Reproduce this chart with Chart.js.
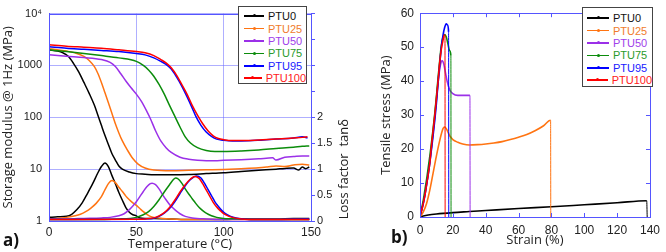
<!DOCTYPE html>
<html>
<head>
<meta charset="utf-8">
<script src="https://cdn.jsdelivr.net/npm/chart.js@4.4.1/dist/chart.umd.min.js"></script>
<style>
  body { margin: 0; background: #fff; }
  #wrap { position: relative; width: 666px; height: 252px; overflow: hidden; font-family: "Liberation Sans", Arial, sans-serif; }
  canvas { position: absolute; top: 0; }
  #chartA { left: 0; }
  #chartB { left: 352px; }
  .legend { position: absolute; box-sizing: border-box; background: #fff; border: 1px solid #444; font-size: 11px; }
  .legend .row { display: flex; align-items: center; height: 12.4px; }
  .legend .swatch { position: relative; height: 1.5px; margin-right: 4px; }
  .legend .swatch i { position: absolute; left: 50%; top: -1px; width: 3px; height: 3px; margin-left: -1.5px; border-radius: 50%; }
  .panel { position: absolute; font: bold 17px "Open Sans", sans-serif; color: #111; }
</style>
</head>
<body>
<div id="wrap">
  <canvas id="chartA" width="352" height="252"></canvas>
  <canvas id="chartB" width="314" height="252"></canvas>
  <div id="legendA" class="legend" style="left:238px;top:6px;width:69px;height:78px;padding:3px 0 0 5px;"></div>
  <div id="legendB" class="legend" style="left:582px;top:7px;width:71px;height:80px;padding:4px 0 0 4px;"></div>
  <div class="panel" style="left:3px;top:228px;">a)</div>
  <div class="panel" style="left:391px;top:225px;">b)</div>
</div>
<script>
// series
const seriesNames = ['PTU0', 'PTU25', 'PTU50', 'PTU75', 'PTU95', 'PTU100'];
const seriesColors = ['#000000', '#ff7412', '#9b30e8', '#0b8c0b', '#0000ff', '#ff0000'];
const legendTextColors = ['#111111', '#f07c2c', '#a040ea', '#2a9a2a', '#2020ff', '#ff2020'];

// a) storage modulus (MPa) vs temperature (°C)
const modT0 = [0,5,8,11,14,17,20,23,26,28,30,32,34,36,38,40,42,46,50,55,60,70,80,90,100,110,120,130,135,140,143,145,147,149];
const mod0 = [2000,1900,1750,1500,1100,750,470,290,170,110,70,45,30,20,15,11.5,10,8.8,8.2,8,7.8,7.8,7.9,8.2,8.5,9,9.5,10,10.3,10.5,9.6,11,10.2,11];
const modT25 = [0,5,10,15,20,23,26,28,30,32,34,36,38,40,42,45,48,51,55,60,70,80,90,100,110,120,125,130,135,140,145,149];
const mod25 = [2100,2000,1900,1750,1500,1250,950,700,470,300,190,120,75,50,35,23,16,12.5,10.5,9.6,9.3,9.5,9.7,9.9,10.2,10.6,11,11.5,11.2,12,12.5,12];
const modT50 = [0,10,20,30,35,38,41,44,47,50,53,56,58,61,64,67,70,75,80,85,90,95,100,110,120,128,130,135,140,145,149];
const mod50 = [1600,1500,1420,1300,1150,950,700,500,370,280,200,130,95,55,35,26,21,17,15.5,14.8,14.5,14.5,14.8,15.2,15.8,16.5,15,17,17.5,18,18];
const modT75 = [0,10,20,30,40,50,54,57,60,63,66,69,72,75,78,81,85,90,95,100,110,120,130,140,145,149];
const mod75 = [2000,1850,1700,1550,1400,1200,1000,820,620,430,280,170,105,65,42,32,26,23,22,22,22.5,23.5,25,26.5,27.5,28];
const modT95 = [0,10,20,30,40,50,55,60,64,67,70,73,76,79,82,84,87,90,93,96,100,105,110,120,130,140,145,148];
const mod95 = [2300,2150,2050,1950,1850,1700,1600,1400,1200,1050,850,600,400,250,150,105,70,52,43,38,36,35,35,36,38,40,42,40];
const modT100 = [0,10,20,30,40,50,55,60,64,67,70,73,76,79,82,85,88,91,94,97,100,105,110,120,130,140,145,148];
const mod100 = [2500,2350,2250,2150,2000,1850,1750,1550,1300,1120,900,650,430,280,170,110,75,55,44,39,37,35.5,35.5,36.5,38,40,41,42];

// a) loss factor tan delta vs temperature
const tanT0 = [0,5,10,13,16,19,22,25,28,30,32,34,36,38,40,42,44,46,48,50,52,55,60,70,80,90,100,110,120,130,140,149];
const tan0 = [0.07,0.08,0.09,0.13,0.22,0.35,0.53,0.72,0.93,1.05,1.12,1.05,0.88,0.72,0.55,0.4,0.26,0.17,0.12,0.1,0.06,0.05,0.05,0.04,0.03,0.03,0.03,0.04,0.04,0.04,0.05,0.05];
const tanT25 = [0,5,10,15,18,21,24,27,30,32,34,36,38,40,42,44,46,48,50,52,54,56,58,60,65,70,80,100,120,149];
const tan25 = [0.04,0.05,0.07,0.1,0.13,0.18,0.25,0.34,0.47,0.6,0.72,0.78,0.74,0.65,0.57,0.48,0.41,0.35,0.3,0.24,0.18,0.13,0.09,0.07,0.05,0.04,0.03,0.03,0.03,0.03];
const tanT50 = [0,10,20,30,35,40,43,46,48,50,52,54,56,58,59,61,63,65,67,69,71,73,75,78,82,90,100,120,149];
const tan50 = [0.04,0.04,0.05,0.06,0.07,0.1,0.14,0.22,0.29,0.37,0.47,0.57,0.66,0.72,0.73,0.7,0.62,0.51,0.41,0.32,0.25,0.19,0.14,0.09,0.06,0.04,0.03,0.03,0.03];
const tanT75 = [0,20,40,50,54,57,60,63,66,69,71,72.5,74,76,78,80,82,84,86,88,90,93,96,100,110,120,149];
const tan75 = [0.03,0.03,0.04,0.07,0.12,0.18,0.28,0.41,0.56,0.7,0.79,0.83,0.81,0.73,0.62,0.52,0.43,0.34,0.26,0.2,0.15,0.1,0.07,0.05,0.04,0.03,0.03];
const tanT95 = [0,50,55,60,63,66,69,72,75,78,81,84.5,87,89,91,93,95,97,99,101,104,107,111,120,149];
const tan95 = [0.03,0.035,0.04,0.055,0.09,0.15,0.24,0.37,0.53,0.68,0.8,0.87,0.83,0.73,0.61,0.49,0.37,0.28,0.2,0.14,0.09,0.06,0.04,0.03,0.04];
const tanT100 = [0,50,55,60,63,66,69,72,75,78,81,83.5,86,88,90,92,94,96,98,100,103,106,110,120,149];
const tan100 = [0.03,0.035,0.04,0.06,0.1,0.16,0.26,0.4,0.56,0.7,0.81,0.86,0.82,0.72,0.6,0.48,0.36,0.27,0.2,0.14,0.09,0.06,0.04,0.03,0.03];

// b) tensile stress (MPa) vs strain (%)
const strain0 = [0,2,5,10,20,30,40,60,80,100,120,138,138.3];
const stress0 = [0,0.3,0.6,0.9,1.3,1.6,1.9,2.5,3.0,3.6,4.2,4.8,0];
const strain25 = [0,2,4,6,8,10,12,14,15,16,18,20,23,26,30,35,40,45,50,55,60,65,70,75,79.5,79.6];
const stress25 = [0,1.5,4,8,13,18,22.5,26,26.5,26,24,22.8,22,21.5,21.2,21.3,21.5,21.8,22.2,22.8,23.5,24.3,25.4,26.8,28.5,0];
const strain50 = [0,1,2,3,4,5,6,7,8,9,10,11,12,13,13.6,14.5,15.5,16.5,18,20,23,26,30.4,30.5];
const stress50 = [0.5,2,4,6.5,9.5,13,16.5,20.5,25,29.5,34.5,39.5,43.5,45.8,46,45,42.5,40,37.5,36.3,35.8,35.8,35.8,0];
const strain75 = [0,1,2,3,4,5,6,7,8,9,10,11,12,13,14,15,16,17,18,18.8,18.9];
const stress75 = [0.5,2.5,5,8,11,14.5,18,22,26,30.5,35.5,41,46,50.5,53,53.7,53,51,49,47.5,0];
const strain95 = [0,1,2,3,4,5,6,7,8,9,10,11,12,13,14,15,16,16.8,17.4,17.5];
const stress95 = [0.5,2,4,6.5,9.5,12.5,16,20,24,28.5,33.5,39.5,45,50,53.5,55.8,56.9,56.5,54.5,0];
const strain100 = [0,1,2,3,4,5,6,7,8,9,10,11,12,13,14,14.8,15.2,15.3];
const stress100 = [0.5,2,4,6.5,9.5,12.5,16,21,25.5,30,35,40,45.5,49.5,52,53.6,53.5,0];

// axis ticks
const modTicks = [1, 10, 100, 1000, 10000];
const tanLabelMax = 2;

const modX = [modT0, modT25, modT50, modT75, modT95, modT100];
const modY = [mod0, mod25, mod50, mod75, mod95, mod100];
const tanX = [tanT0, tanT25, tanT50, tanT75, tanT95, tanT100];
const tanY = [tan0, tan25, tan50, tan75, tan95, tan100];
const strainX = [strain0, strain25, strain50, strain75, strain95, strain100];
const stressY = [stress0, stress25, stress50, stress75, stress95, stress100];

const GRID_BLUE = 'rgba(110,110,255,0.55)';
const AXIS_BLUE = '#5555ff';
const TICK_FONT = { family: '"Liberation Sans", Arial, sans-serif', size: 12 };
const TICK_FONT_SMALL = { family: '"Liberation Sans", Arial, sans-serif', size: 11 };
const TITLE_FONT = { family: '"Open Sans", sans-serif', size: 13 };
const TEXT_COLOR = '#222';

const pts = (xs, ys) => xs.map((x, i) => ({ x: x, y: ys[i] }));

// legends (html)
function buildLegend(id, swatchWidth) {
    const box = document.getElementById(id);
    seriesNames.forEach((name, i) => {
        const row = document.createElement('div');
        row.className = 'row';
        row.innerHTML = `<span class="swatch" style="width:${swatchWidth}px;background:${seriesColors[i]}"><i style="background:${seriesColors[i]}"></i></span>` +
            `<span style="color:${legendTextColors[i]}">${name}</span>`;
        box.appendChild(row);
    });
}
buildLegend('legendA', 20);
buildLegend('legendB', 22);

// frame around the plot area
const frame = {
    id: 'frame',
    afterDatasetsDraw(chart) {
        const a = chart.chartArea, ctx = chart.ctx;
        ctx.save();
        ctx.strokeStyle = AXIS_BLUE;
        ctx.lineWidth = 1;
        ctx.strokeRect(Math.round(a.left) + 0.5, Math.round(a.top) + 0.5, Math.round(a.right - a.left), Math.round(a.bottom - a.top));
        ctx.restore();
    }
};

// right axis title of panel a, centred on the labelled part (0..2)
const tanTitle = {
    id: 'tanTitle',
    afterDraw(chart) {
        const ctx = chart.ctx, y2 = chart.scales.y2;
        ctx.save();
        ctx.translate(344, y2.getPixelForValue(tanLabelMax / 2));
        ctx.rotate(-Math.PI / 2);
        ctx.font = `${TITLE_FONT.size}px ${TITLE_FONT.family}`;
        ctx.fillStyle = TEXT_COLOR;
        ctx.textAlign = 'center';
        ctx.textBaseline = 'middle';
        ctx.fillText('Loss factor  tan\u03b4', 0, 0);
        ctx.restore();
    }
};

// inward tick marks on all four sides (panel b)
const innerTicks = {
    id: 'innerTicks',
    afterDraw(chart) {
        const { ctx, chartArea: a, scales: { x, y } } = chart;
        ctx.save();
        ctx.strokeStyle = AXIS_BLUE;
        ctx.lineWidth = 1;
        ctx.beginPath();
        x.ticks.forEach(t => {
            const px = Math.round(x.getPixelForValue(t.value)) + 0.5;
            ctx.moveTo(px, a.bottom); ctx.lineTo(px, a.bottom - 4);
            ctx.moveTo(px, a.top); ctx.lineTo(px, a.top + 4);
        });
        y.ticks.forEach(t => {
            const py = Math.round(y.getPixelForValue(t.value)) + 0.5;
            ctx.moveTo(a.left, py); ctx.lineTo(a.left + 4, py);
            ctx.moveTo(a.right, py); ctx.lineTo(a.right - 4, py);
        });
        ctx.stroke();
        ctx.restore();
    }
};

// ---- panel a ----
const datasetsA = [];
seriesNames.forEach((name, i) => {
    datasetsA.push({
        label: name + ' E\'',
        data: pts(modX[i], modY[i]),
        yAxisID: 'y',
        borderColor: seriesColors[i],
        borderWidth: 1.5,
        pointRadius: 0,
        cubicInterpolationMode: 'monotone',
        order: 5 - i
    });
    datasetsA.push({
        label: name + ' tan',
        data: pts(tanX[i], tanY[i]),
        yAxisID: 'y2',
        borderColor: seriesColors[i],
        borderWidth: 1.5,
        pointRadius: 0,
        cubicInterpolationMode: 'monotone',
        order: 5 - i
    });
});

new Chart(document.getElementById('chartA'), {
    type: 'line',
    data: { datasets: datasetsA },
    options: {
        responsive: false,
        animation: false,
        devicePixelRatio: 1,
        layout: { padding: { top: 7, right: 0, bottom: 0, left: 0 } },
        plugins: { legend: { display: false }, tooltip: { enabled: false } },
        scales: {
            x: {
                type: 'linear', position: 'bottom', min: 0, max: 150,
                afterFit: s => { s.height = 31; },
                ticks: { stepSize: 50, padding: 4, color: TEXT_COLOR, font: TICK_FONT, maxRotation: 0 },
                grid: { color: GRID_BLUE, drawTicks: false },
                border: { color: AXIS_BLUE },
                title: { display: true, text: 'Temperature (\u00b0C)', color: TEXT_COLOR, font: TITLE_FONT, padding: { top: 0, bottom: 0 } }
            },
            y: {
                type: 'logarithmic', position: 'left', min: 1, max: 10000,
                afterFit: s => { s.width = 49; },
                afterBuildTicks: s => { s.ticks = modTicks.map(v => ({ value: v })); },
                ticks: {
                    padding: 7, color: TEXT_COLOR, font: TICK_FONT_SMALL,
                    callback: v => v === 10000 ? '10\u2074' : String(v)
                },
                grid: { color: GRID_BLUE, drawTicks: false },
                border: { color: AXIS_BLUE },
                title: { display: true, text: 'Storage modulus @ 1Hz (MPa)', color: TEXT_COLOR, font: TITLE_FONT, padding: { top: 0, bottom: 0 } }
            },
            y2: {
                type: 'linear', position: 'right', min: 0, max: 4,
                afterFit: s => { s.width = 41; },
                ticks: {
                    stepSize: 0.5, padding: 2, color: TEXT_COLOR, font: TICK_FONT_SMALL,
                    callback: v => v <= tanLabelMax ? String(v) : ''
                },
                grid: { drawOnChartArea: false, color: AXIS_BLUE, tickLength: 4 },
                border: { color: AXIS_BLUE }
            }
        }
    },
    plugins: [frame, tanTitle]
});

// ---- panel b ----
const datasetsB = seriesNames.map((name, i) => {
    const n = strainX[i].length;
    return {
        label: name,
        data: pts(strainX[i], stressY[i]),
        borderColor: seriesColors[i],
        borderWidth: 1.6,
        pointRadius: 0,
        cubicInterpolationMode: 'monotone',
        order: 5 - i,
        segment: { borderWidth: ctx => ctx.p1DataIndex === n - 1 ? 1 : 1.6 }
    };
});

new Chart(document.getElementById('chartB'), {
    type: 'line',
    data: { datasets: datasetsB },
    options: {
        responsive: false,
        animation: false,
        devicePixelRatio: 1,
        layout: { padding: { top: 7, right: 10, bottom: 0, left: 0 } },
        plugins: { legend: { display: false }, tooltip: { enabled: false } },
        scales: {
            x: {
                type: 'linear', position: 'bottom', min: 0, max: 140,
                afterFit: s => { s.height = 35; },
                ticks: { stepSize: 20, padding: 6, color: TEXT_COLOR, font: TICK_FONT, maxRotation: 0 },
                grid: { display: false, drawTicks: false },
                border: { color: AXIS_BLUE },
                title: { display: true, text: 'Strain (%)', color: TEXT_COLOR, font: TITLE_FONT, padding: { top: 0, bottom: 4 } }
            },
            y: {
                type: 'linear', position: 'left', min: 0, max: 60,
                afterFit: s => { s.width = 68; },
                ticks: { stepSize: 10, padding: 6, color: TEXT_COLOR, font: TICK_FONT },
                grid: { display: false, drawTicks: false },
                border: { color: AXIS_BLUE },
                title: { display: true, text: 'Tensile stress (MPa)', color: TEXT_COLOR, font: TITLE_FONT, padding: { top: 26, bottom: 0 } }
            }
        }
    },
    plugins: [frame, innerTicks]
});
</script>
</body>
</html>
